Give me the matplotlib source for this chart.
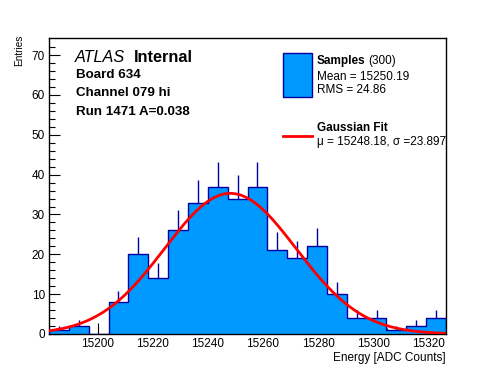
"""Energy distribution of one channel with Gaussian fit."""
import matplotlib
matplotlib.use("Agg")
import matplotlib.pyplot as plt
import numpy as np
from matplotlib.lines import Line2D
from matplotlib.patches import Rectangle

plt.rcParams["font.family"] = ["Liberation Sans", "DejaVu Sans"]

# histogram data
bin_lo = 15182.4
bin_width = 7.2
counts = [1, 2, 0, 8, 20, 14, 26, 33, 37, 34, 37, 21, 19, 22, 10, 4, 4, 1, 2, 4]
n_samples = 300
mean_txt = "15250.19"
rms_txt = "24.86"

# fit result
fit_mu = 15248.18
fit_sigma = 23.897
fit_amp = 35.3

x_ticks = [15200, 15220, 15240, 15260, 15280, 15300, 15320]
y_ticks = [0, 10, 20, 30, 40, 50, 60, 70]
y_max = 74.3

fill_col = "#0099ff"
edge_col = "#0000a0"

W, H = 496, 372
fig = plt.figure(figsize=(W / 100, H / 100), dpi=100)
ax = fig.add_axes([49 / W, (H - 334) / H, 397 / W, 296 / H])

counts = np.asarray(counts, dtype=float)
edges = bin_lo + bin_width * np.arange(len(counts) + 1)
centers = 0.5 * (edges[:-1] + edges[1:])

ax.stairs(counts, edges, fill=True, color=fill_col, lw=0, zorder=2)
ax.stairs(counts, edges, fill=False, color=edge_col, lw=1.0, zorder=3)
nz = counts > 0
ax.vlines(centers[nz], counts[nz], counts[nz] + np.sqrt(counts[nz]),
          color=edge_col, lw=1.0, zorder=3)

xx = np.linspace(edges[0], edges[-1], 500)
ax.plot(xx, fit_amp * np.exp(-0.5 * ((xx - fit_mu) / fit_sigma) ** 2),
        color="#ff0000", lw=2, zorder=4)

ax.set_xlim(edges[0], edges[-1])
ax.set_ylim(0, y_max)
ax.set_xticks(x_ticks)
ax.set_yticks(y_ticks)
ax.set_xticks(np.arange(15185, 15330, 5), minor=True)
ax.set_yticks(np.arange(0, 74, 2), minor=True)
ax.tick_params(which="both", direction="in", top=False, right=False,
               labelsize=8.5, width=0.8, color="black")
ax.tick_params(which="major", length=8, pad=3)
ax.tick_params(which="minor", length=4)
for s in ax.spines.values():
    s.set_linewidth(1.0)

ax.set_xlabel("Energy [ADC Counts]", fontsize=8.5, loc="right", labelpad=1)
fig.text(19.5 / W, 1 - 35 / H, "Entries", fontsize=7.2, rotation=90,
         ha="center", va="top")

# ATLAS label block
fig.text(75 / W, 1 - 57 / H, "ATLAS", fontsize=11.7, style="italic", va="center")
fig.text(134 / W, 1 - 57 / H, "Internal", fontsize=11.7, weight="bold", va="center")
info = ["Board 634", "Channel 079 hi", "Run 1471 A=0.038"]
for i, line in enumerate(info):
    fig.text(76 / W, 1 - (75 + 18.3 * i) / H, line, fontsize=9.6,
             weight="bold", va="center")

# legend drawn by hand
fig.patches.append(Rectangle((283 / W, 1 - 97 / H), 29 / W, 44 / H,
                             transform=fig.transFigure, facecolor=fill_col,
                             edgecolor=edge_col, lw=1.0))
fig.lines.append(Line2D([283 / W, 312 / W], [1 - 136 / H, 1 - 136 / H],
                        transform=fig.transFigure, color="#ff0000", lw=2))
t = fig.text(317 / W, 1 - 61 / H, "Samples", fontsize=8.5, weight="bold", va="center")
fig.canvas.draw()
bb = t.get_window_extent()
fig.text((bb.x1 + 3) / W, 1 - 61 / H, f"({n_samples})", fontsize=8.5, va="center")
fig.text(317 / W, 1 - 77 / H, f"Mean = {mean_txt}", fontsize=8.5, va="center")
fig.text(317 / W, 1 - 90 / H, f"RMS = {rms_txt}", fontsize=8.5, va="center")
fig.text(317 / W, 1 - 128 / H, "Gaussian Fit", fontsize=8.5, weight="bold", va="center")
fig.text(317 / W, 1 - 142 / H, f"\u03bc = {fit_mu:.2f}, \u03c3 ={fit_sigma:.3f}",
         fontsize=8.5, va="center")

fig.savefig("out.png", dpi=100)
